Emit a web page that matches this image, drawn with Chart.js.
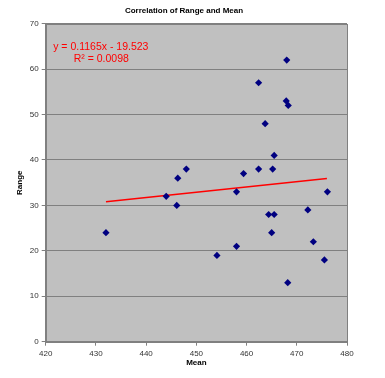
<!DOCTYPE html>
<html><head><meta charset="utf-8">
<script src="https://cdn.jsdelivr.net/npm/chart.js@4"></script>
<style>html,body{margin:0;padding:0;background:#fff}#w{width:385px;height:378px}</style>
</head><body><div id="w"><canvas id="c"></canvas></div>
<script>
const meanValues = [432, 444, 446.1, 446.3, 448, 468, 462.4, 467.9, 468.3, 463.7, 465.5, 459.4, 462.4, 465.2, 458, 476.1, 464.4, 465.5, 472.2, 465, 458, 473.3, 454.1, 475.5, 468.2];
const rangeValues = [24, 32, 30, 36, 38, 62, 57, 53, 52, 48, 41, 37, 38, 38, 33, 33, 28, 28, 29, 24, 21, 22, 19, 18, 13];
const trendSlope = 0.1165, trendIntercept = -19.523;
const trendX = [432, 476];
const xTicks = [420, 430, 440, 450, 460, 470, 480];
const yTicks = [0, 10, 20, 30, 40, 50, 60, 70];
const titleText = 'Correlation of Range and Mean';
const eqLines = ['y = 0.1165x - 19.523', 'R\u00b2 = 0.0098'];

const points = meanValues.map((m, i) => ({x: m, y: rangeValues[i]}));
const trend = trendX.map(x => ({x, y: trendSlope * x + trendIntercept}));
const FONT = '"Liberation Sans", Arial, sans-serif';

const bgPlugin = {
  id: 'bg',
  beforeDraw(chart) {
    const {ctx, chartArea: a} = chart;
    ctx.save(); ctx.fillStyle = '#c0c0c0';
    ctx.fillRect(a.left, a.top, a.right - a.left, a.bottom - a.top);
    ctx.restore();
  },
  afterDraw(chart) {
    const {ctx, chartArea: a} = chart;
    ctx.save();
    ctx.strokeStyle = '#808080'; ctx.lineWidth = 1;
    ctx.strokeRect(Math.round(a.left) + 0.5, Math.round(a.top) + 0.5, Math.round(a.right - a.left), Math.round(a.bottom - a.top));
    ctx.fillStyle = '#000';
    ctx.font = 'bold 8px ' + FONT;
    ctx.textAlign = 'center'; ctx.textBaseline = 'middle';
    ctx.fillText(titleText, 184, 11);
    ctx.fillStyle = '#ff0000';
    ctx.font = '10.5px ' + FONT;
    ctx.textAlign = 'left';
    ctx.fillText(eqLines[0], a.left + 7.5, a.top + 23);
    ctx.fillText(eqLines[1], a.left + 28, a.top + 35);
    ctx.restore();
  }
};

new Chart(document.getElementById('c'), {
  type: 'scatter',
  data: {
    datasets: [
      {data: points, backgroundColor: '#000080', borderColor: '#000080', pointStyle: 'rectRot', pointRadius: 3.6, pointHoverRadius: 3.6, borderWidth: 0, order: 1},
      {type: 'line', data: trend, borderColor: '#ff0000', borderWidth: 1.5, pointRadius: 0, fill: false, order: 2}
    ]
  },
  options: {
    animation: false, responsive: true, maintainAspectRatio: false,
    layout: {padding: {left: 0, right: 38, top: 23.7, bottom: 0}},
    plugins: {legend: {display: false}, tooltip: {enabled: false}, title: {display: false}},
    scales: {
      x: {
        type: 'linear', min: 420, max: 480,
        afterBuildTicks: s => { s.ticks = xTicks.map(v => ({value: v})); },
        afterFit: s => { s.height = 36.3; },
        grid: {color: 'rgba(0,0,0,0)', tickColor: '#808080', tickLength: 4, drawOnChartArea: false},
        border: {display: true, color: '#808080'},
        ticks: {color: '#333', font: {family: FONT, size: 8}, padding: 3, maxRotation: 0},
        title: {display: true, text: 'Mean', color: '#000', font: {family: FONT, size: 8, weight: 'bold'}, padding: {top: 0, bottom: 10}}
      },
      y: {
        min: 0, max: 70,
        afterBuildTicks: s => { s.ticks = yTicks.map(v => ({value: v})); },
        afterFit: s => { s.width = 45.7; },
        grid: {color: '#808080', tickColor: '#808080', tickLength: 4, lineWidth: 1},
        border: {display: true, color: '#808080'},
        ticks: {color: '#333', font: {family: FONT, size: 8}, padding: 3},
        title: {display: true, text: 'Range', color: '#000', font: {family: FONT, size: 8, weight: 'bold'}, padding: {top: 15, bottom: 0}}
      }
    }
  },
  plugins: [bgPlugin]
});
</script></body></html>
